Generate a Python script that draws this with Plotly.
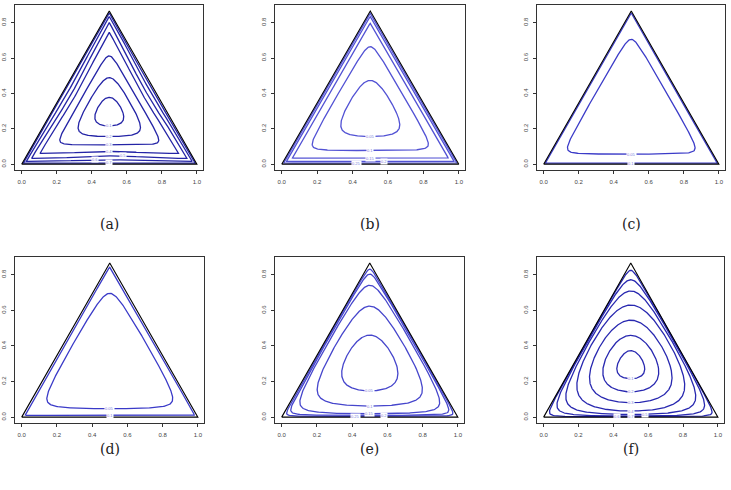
import numpy as np
import plotly.graph_objects as go

# ---------------- data ----------------
panel_tags = ["(a)", "(b)", "(c)", "(d)", "(e)", "(f)"]

# y where each contour crosses the median x = 0.5 (bottom / top)
bottoms_a = [0.216, 0.156, 0.109, 0.0715, 0.047, 0.0245, 0.0094]
tops_a = [0.378, 0.489, 0.612, 0.745, 0.800, 0.835, 0.855]
labels_a = ["0.1", "0.2", "0.3", "0.4", "0.5", "0.6", "0.7"]

bottoms_b = [0.156, 0.077, 0.034, 0.015, 0.006]
tops_b = [0.474, 0.664, 0.796, 0.834, 0.852]
labels_b = ["0.05", "0.1", "0.15", "0.2", "0.25"]

bottoms_c = [0.0565, 0.006]
tops_c = [0.706, 0.855]
labels_c = ["0.05", "0.1"]

bottoms_d = [0.047, 0.0095]
tops_d = [0.696, 0.842]
labels_d = ["0.05", "0.1"]

bottoms_e = [0.1475, 0.0624, 0.019, 0.0095, 0.004]
tops_e = [0.461, 0.624, 0.741, 0.804, 0.832]
labels_e = ["0.05", "0.1", "0.15", "0.2", "0.25"]

bottoms_f = [0.2156, 0.142, 0.081, 0.034, 0.015, 0.006, 0.002]
tops_f = [0.374, 0.4596, 0.545, 0.630, 0.709, 0.772, 0.825]
labels_f = ["0.1", "0.2", "0.3", "0.4", "0.5", "0.6", "0.7"]

x_ticks = [0.0, 0.2, 0.4, 0.6, 0.8, 1.0]
y_ticks = [0.0, 0.2, 0.4, 0.6, 0.8]

panels = [
    (bottoms_a, tops_a, labels_a),
    (bottoms_b, tops_b, labels_b),
    (bottoms_c, tops_c, labels_c),
    (bottoms_d, tops_d, labels_d),
    (bottoms_e, tops_e, labels_e),
    (bottoms_f, tops_f, labels_f),
]

# ---------------- styling / layout ----------------
W, Hpx = 731, 490
boxes = [  # left, right, top, bottom in pixels
    (15, 203, 5, 170), (275, 465, 5, 170), (537, 725, 5, 170),
    (15, 204, 257, 423), (275, 464, 257, 423), (537, 724, 257, 423),
]
line_colors = ["#2424a6", "#5252d4", "#3c3cc8", "#3a3ac8", "#4646cc", "#2828b0"]
tag_y = [224, 224, 224, 449, 449, 449]
label_shift = [0.0, 0.08, -0.08]

SQ = np.sqrt(3) / 2


def bary(x, y):
    lc = y / SQ
    lb = x - 0.5 * lc
    la = 1 - lb - lc
    return np.array([la, lb, lc])


def F(lam, p):
    L = np.log(np.clip(lam, 1e-300, None))
    if abs(p) < 1e-9:
        return L.mean(axis=0)
    pL = p * L
    m = pL.max(axis=0)
    return (m + np.log(np.mean(np.exp(pL - m), axis=0))) / p


def top_for(p, b):
    c = F(bary(0.5, b), p)
    lo, hi = SQ / 3, SQ * (1 - 1e-12)
    for _ in range(70):
        mid = 0.5 * (lo + hi)
        if F(bary(0.5, mid), p) > c:
            lo = mid
        else:
            hi = mid
    return 0.5 * (lo + hi)


def solve_p(b, t):
    lo, hi = -150.0, 0.97
    if t <= top_for(hi, b):
        return hi
    for _ in range(60):
        mid = 0.5 * (lo + hi)
        if top_for(mid, b) > t:
            lo = mid
        else:
            hi = mid
    return 0.5 * (lo + hi)


def ray_geometry(n):
    th = np.linspace(0, 2 * np.pi, n, endpoint=False)
    dx, dy = np.cos(th), np.sin(th)
    dlc = dy / SQ
    dlb = dx - 0.5 * dlc
    dla = -dlb - dlc
    dl = np.array([dla, dlb, dlc])
    with np.errstate(divide="ignore"):
        rr = np.where(dl < 0, (1 / 3) / (-dl), np.inf)
    rmax = rr.min(axis=0)
    return th, dx, dy, dl, rmax


def contour(b, t, n=720):
    th, dx, dy, dl, rmax = ray_geometry(n)
    if t > SQ - 2 * b:
        # contour reaches further into the corners than a uniform inset
        s_e = (SQ / 3 - b) / (SQ / 3)
        s_v = (t - SQ / 3) / (2 * SQ / 3)
        w = (1 + np.cos(3 * th - 1.5 * np.pi)) / 2
        r = rmax * (s_e + (s_v - s_e) * w ** 2)
        ok = np.ones(n, dtype=bool)
    else:
        p = solve_p(b, t)
        c = F(bary(0.5, b), p)
        g = np.full((3, 1), 1 / 3)
        rm = rmax * (1 - 1e-10)
        ok = F(g + rm * dl, p) <= c
        lo = np.zeros(n)
        hi = rm.copy()
        for _ in range(60):
            mid = 0.5 * (lo + hi)
            f = F(g + mid * dl, p)
            up = f > c
            lo = np.where(up, mid, lo)
            hi = np.where(up, hi, mid)
        r = 0.5 * (lo + hi)
    xs = 0.5 + r * dx
    ys = SQ / 3 + r * dy
    X, Y = [], []
    for i in list(range(n)) + [0]:
        if ok[i]:
            X.append(float(xs[i]))
            Y.append(float(ys[i]))
        else:
            X.append(None)
            Y.append(None)
    return X, Y


fig = go.Figure()
annotations = []
layout = {}

for k, (bots, tops, labs) in enumerate(panels):
    ax = "" if k == 0 else str(k + 1)
    xa, ya = "x" + ax, "y" + ax
    for b, t in zip(bots, tops):
        X, Y = contour(b, t)
        fig.add_trace(go.Scatter(x=X, y=Y, mode="lines", xaxis=xa, yaxis=ya,
                                 line=dict(color=line_colors[k], width=1.3),
                                 hoverinfo="skip", showlegend=False))
    fig.add_trace(go.Scatter(x=[0, 1, 0.5, 0], y=[0, 0, SQ, 0], mode="lines",
                             xaxis=xa, yaxis=ya,
                             line=dict(color="black", width=1.1),
                             hoverinfo="skip", showlegend=False))
    prev = None
    run = 0
    for j, (b, lab) in enumerate(zip(bots, labs)):
        if prev is not None and prev - b < 0.03:
            run += 1
        else:
            run = 0
        prev = b
        lx = 0.5 + label_shift[run % 3]
        annotations.append(dict(x=lx, y=b, xref=xa, yref=ya, text=lab,
                                showarrow=False, bgcolor="white", borderpad=0,
                                font=dict(size=4, color="#7c7cdc",
                                          family="Liberation Sans")))
    l, r, tp, bt = boxes[k]
    common = dict(showline=True, linecolor="#333", linewidth=1, mirror=True,
                  ticks="outside", ticklen=3, tickwidth=1, tickcolor="#333",
                  showgrid=False, zeroline=False,
                  tickfont=dict(size=6, color="#444", family="Liberation Sans"))
    layout["xaxis" + ax] = dict(domain=[l / W, r / W], range=[-0.038, 1.035],
                                anchor=ya, tickvals=x_ticks,
                                ticktext=[f"{v:.1f}" for v in x_ticks],
                                ticklabelstandoff=3, **common)
    layout["yaxis" + ax] = dict(domain=[1 - bt / Hpx, 1 - tp / Hpx],
                                range=[-0.033, 0.900], anchor=xa,
                                tickvals=y_ticks,
                                ticktext=[f"{v:.1f}" for v in y_ticks],
                                tickangle=-90, ticklabelstandoff=3, **common)
    annotations.append(dict(x=(l + r) / 2 / W, y=1 - tag_y[k] / Hpx,
                            xref="paper", yref="paper", text=panel_tags[k],
                            showarrow=False, xanchor="center", yanchor="middle",
                            font=dict(size=14, color="#222",
                                      family="DejaVu Serif")))

fig.update_layout(width=W, height=Hpx, margin=dict(l=0, r=0, t=0, b=0),
                  paper_bgcolor="white", plot_bgcolor="white",
                  annotations=annotations, **layout)
fig.write_html("out.html")
